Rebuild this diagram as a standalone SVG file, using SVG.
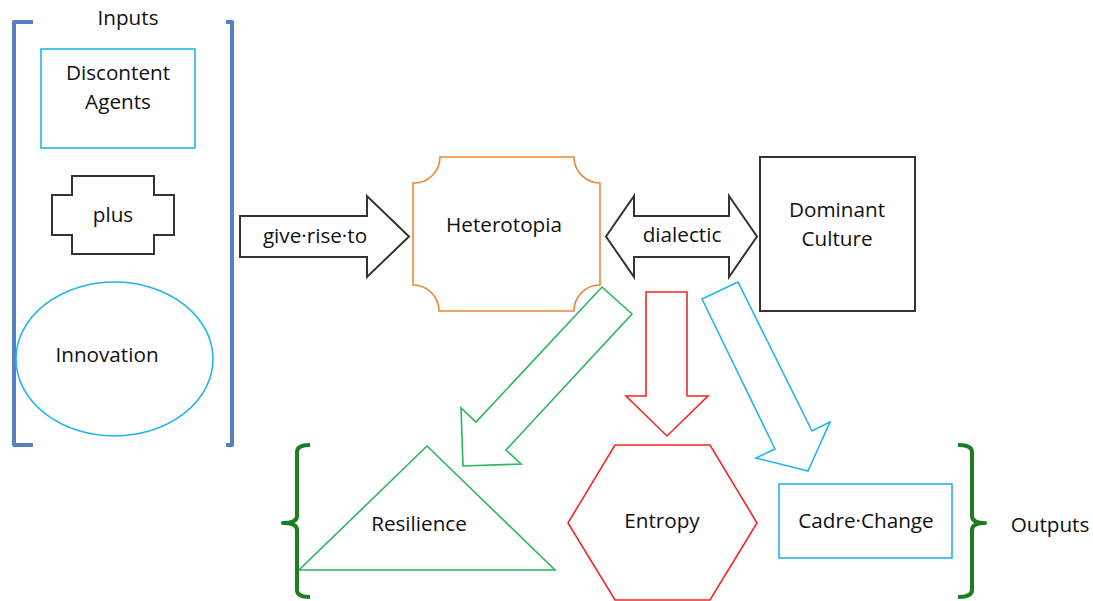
<svg xmlns="http://www.w3.org/2000/svg" width="1093" height="601" viewBox="0 0 1093 601">
<style>
text{font-family:"Open Sans","Liberation Sans",sans-serif;font-size:20.7px;fill:#111;text-anchor:middle}
.cy{fill:none;stroke:#22B4EE;stroke-width:1.6}
.bk{fill:none;stroke:#333;stroke-width:2}
.gr{fill:none;stroke:#2BB55E;stroke-width:1.6}
.rd{fill:none;stroke:#F42525;stroke-width:1.6}
.or{fill:none;stroke:#ED8538;stroke-width:1.6}
.br{fill:none;stroke-width:4;stroke-linejoin:round;stroke-linecap:butt}
</style>
<rect width="1093" height="601" fill="#fff"/>
<g id="inputs-bracket">
<path class="br" stroke="#5581C0" d="M33,22 L14,22 L14,445 L33,445"/>
<path class="br" stroke="#5581C0" d="M226,22 L232,22 L232,445 L226,445"/>
<text x="128" y="25">Inputs</text>
</g>
<g id="discontent-agents">
<rect class="cy" x="41" y="49" width="154" height="99"/>
<text x="118" y="80">Discontent</text>
<text x="118" y="109">Agents</text>
</g>
<g id="plus">
<polygon class="bk" points="72,176 154,176 154,195 174,195 174,235 154,235 154,254 72,254 72,235 52,235 52,195 72,195"/>
<text x="113" y="222">plus</text>
</g>
<g id="innovation">
<ellipse class="cy" cx="114.5" cy="359" rx="98.5" ry="77"/>
<text x="107" y="362">Innovation</text>
</g>
<g id="heterotopia">
<path class="or" d="M440,157 L574,157 A26,26 0 0 0 600,183 L600,285 A26,26 0 0 0 574,311 L439,311 A26,26 0 0 0 413,285 L413,183 A26,26 0 0 0 440,157 Z"/>
<text x="504" y="232">Heterotopia</text>
</g>
<g id="dominant-culture">
<rect class="bk" x="760" y="157" width="155" height="154"/>
<text x="837" y="217">Dominant</text>
<text x="837" y="246">Culture</text>
</g>
<g id="resilience">
<polygon class="gr" points="427,446 555,570 299,570"/>
<text x="419" y="531">Resilience</text>
</g>
<g id="entropy">
<polygon class="rd" points="568,523 615,445 710,445 757,523 710,600 615,600"/>
<text x="662" y="528">Entropy</text>
</g>
<g id="cadre-change">
<rect class="cy" x="779" y="484" width="173" height="74"/>
<text x="866" y="528">Cadre·Change</text>
</g>
<g id="outputs-bracket">
<path class="br" stroke="#1E7D22" d="M310,445 Q297,445 297,452 L297,516 Q297,523 283,523 Q297,523 297,530 L297,590 Q297,597 310,597"/>
<path class="br" stroke="#1E7D22" d="M958,445 Q972,445 972,452 L972,516 Q972,523 985,523 Q972,523 972,530 L972,590 Q972,597 958,597"/>
<text x="1050" y="532">Outputs</text>
</g>
<g id="connectors">
<g id="give-rise-to">
<polygon class="bk" points="240,216 367,216 367,196 409,236.5 367,277 367,257 240,257"/>
<text x="315" y="243">give·rise·to</text>
</g>
<g id="dialectic">
<polygon class="bk" points="606,236.5 634,196 634,216 729,216 729,196 757,236.5 729,277 729,257 634,257 634,277"/>
<text x="682" y="242">dialectic</text>
</g>
<polygon class="gr" points="602,287 632,314 506,450 521,464 463,466 461,408 476,422"/>
<polygon class="rd" points="646,292 687,292 687,396 708,396 667,436 626,396 646,396"/>
<polygon class="cy" points="702,299 738,282 812,431 830,422 808,471 756,458 775,449"/>
</g>
</svg>
